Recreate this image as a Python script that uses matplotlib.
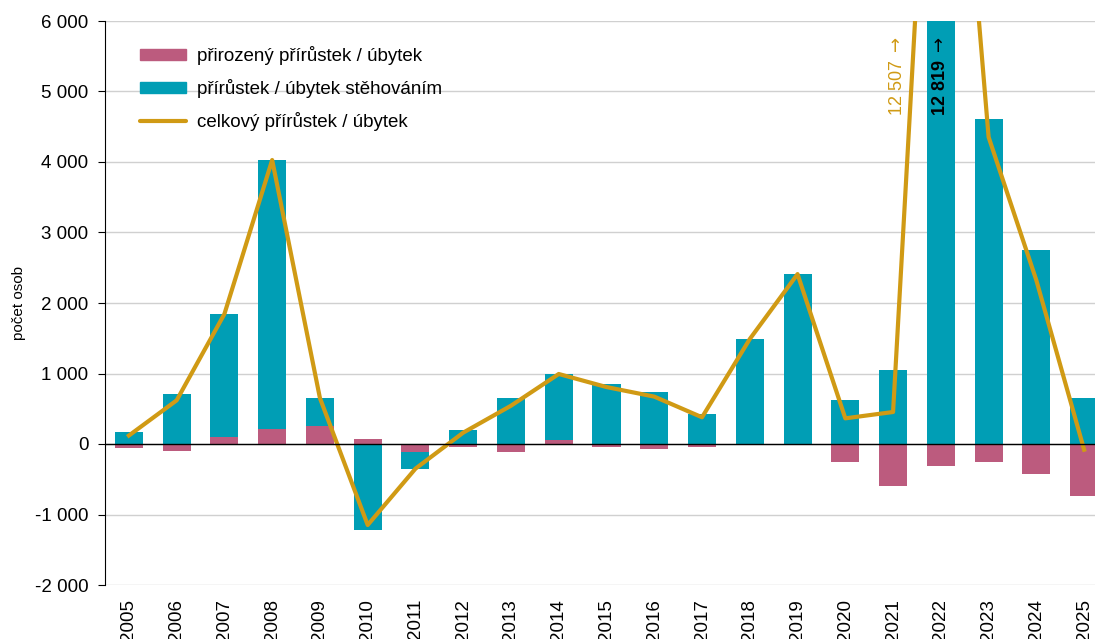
import numpy as np
import matplotlib.pyplot as plt
from matplotlib.ticker import FuncFormatter
from matplotlib.patches import Patch
from matplotlib.lines import Line2D

plt.rcParams['font.family'] = ['Liberation Sans', 'DejaVu Sans']

years = [str(y) for y in range(2005, 2026)]
natural = [-50, -95, 104, 213, 255, 71, -109, -42, -109, 52, -38, -66, -47,
           6, 3, -260, -596, -312, -251, -430, -738]
migration = [170, 714, 1740, 3815, 397, -1220, -241, 203, 652, 941, 846, 738, 426,
             1483, 2407, 624, 1050, 12819, 4605, 2752, 657]

c_nat = '#BC5B7E'
c_mig = '#009EB5'
c_line = '#D09A14'

nat = np.array(natural)
mig = np.array(migration)
total = nat + mig
x = np.arange(len(years))

fig = plt.figure(figsize=(10.95, 6.39), dpi=100)
ax = fig.add_axes([105 / 1095, 54 / 639, 1003 / 1095, 564 / 639])

# excel-style stacking: same sign stacks on the natural bar, opposite sign starts at 0
mig_bottom = np.where(np.sign(mig) == np.sign(nat), nat, 0)

w = 0.587
ax.bar(x, nat, w, color=c_nat, zorder=2)
ax.bar(x, mig, w, bottom=mig_bottom, color=c_mig, zorder=2)
ax.plot(x, total, color=c_line, lw=3, zorder=3)

ax.set_xlim(-0.5, 20.5)
ax.set_ylim(-2000, 6000)
ax.set_yticks(range(-2000, 6001, 1000))
ax.yaxis.set_major_formatter(FuncFormatter(lambda v, p: f'{int(v):,}'.replace(',', ' ')))
ax.grid(axis='y', color='#D0D0D0', lw=1, zorder=0)
ax.axhline(0, color='black', lw=1, zorder=4)

ax.set_xticks(x)
ax.set_xticklabels(years, rotation=90, va='top')
ax.tick_params(axis='x', length=0, pad=10, labelsize=13.5)
ax.tick_params(axis='y', length=5, direction='out', labelsize=13.5, pad=7)
for s in ['top', 'right', 'bottom']:
    ax.spines[s].set_visible(False)
ax.spines['left'].set_color('black')
ax.set_ylabel('počet osob', fontsize=11, labelpad=6)

# off-scale values for 2022
lab_mig = f'{migration[17]:,}'.replace(',', ' ') + r' $\rightarrow$'
lab_tot = f'{total[17]:,}'.replace(',', ' ') + r' $\rightarrow$'
ax.text(17, 5780, lab_mig, rotation=90, ha='center', va='top',
        fontsize=13, fontweight='bold', color='black', zorder=5)
ax.text(16.1, 5780, lab_tot, rotation=90, ha='center', va='top',
        fontsize=13, color=c_line, zorder=5)

handles = [Patch(color=c_nat), Patch(color=c_mig),
           Line2D([], [], color=c_line, lw=3, solid_capstyle='round')]
labels = ['přirozený přírůstek / úbytek', 'přírůstek / úbytek stěhováním', 'celkový přírůstek / úbytek']
leg = ax.legend(handles, labels, loc='upper left', bbox_to_anchor=(0.035, 0.955), frameon=False,
                fontsize=13.5, handlelength=2.45, handleheight=0.55, labelspacing=0.74,
                handletextpad=0.6, borderpad=0, borderaxespad=0)
leg.set_zorder(6)

fig.savefig('out.png', dpi=100)
